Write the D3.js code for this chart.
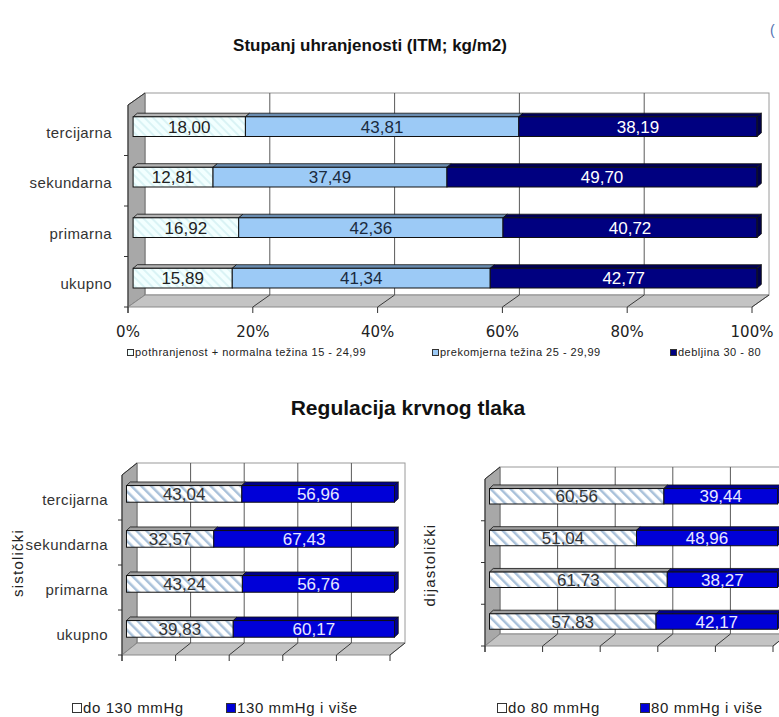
<!DOCTYPE html>
<html>
<head>
<meta charset="utf-8">
<script src="https://cdn.jsdelivr.net/npm/d3@7"></script>
<style>
  body { margin: 0; background: #fff; }
  svg { display: block; font-family: "Liberation Sans", Arial, sans-serif; }
</style>
</head>
<body>
<svg id="chart" width="779" height="717"></svg>
<script>
// categories, top row first
const levels = ["tercijarna", "sekundarna", "primarna", "ukupno"];
const tickValues = [0, 20, 40, 60, 80, 100];
const tickLabels = ["0%", "20%", "40%", "60%", "80%", "100%"];

// Stupanj uhranjenosti (ITM)
const bmiSeries = ["pothranjenost + normalna težina 15 - 24,99", "prekomjerna težina 25 - 29,99", "debljina 30 - 80"];
const bmiNormal = [18.00, 12.81, 16.92, 15.89];
const bmiOver   = [43.81, 37.49, 42.36, 41.34];
const bmiObese  = [38.19, 49.70, 40.72, 42.77];

// Regulacija krvnog tlaka
const sysSeries = ["do 130 mmHg", "130 mmHg i više"];
const sysLow  = [43.04, 32.57, 43.24, 39.83];
const sysHigh = [56.96, 67.43, 56.76, 60.17];
const diaSeries = ["do 80 mmHg", "80 mmHg i više"];
const diaLow  = [60.56, 51.04, 61.73, 57.83];
const diaHigh = [39.44, 48.96, 38.27, 42.17];

const svg = d3.select("#chart");
const defs = svg.append("defs");

function hatch(id, bg, fg, size, w) {
  const p = defs.append("pattern")
    .attr("id", id)
    .attr("patternUnits", "userSpaceOnUse")
    .attr("width", size).attr("height", size)
    .attr("patternTransform", "rotate(-45)");
  p.append("rect").attr("width", size).attr("height", size).attr("fill", bg);
  p.append("line").attr("x1", 1).attr("y1", 0).attr("x2", 1).attr("y2", size)
    .attr("stroke", fg).attr("stroke-width", w);
}
hatch("hatchCyan", "#f2ffff", "#d2f0f2", 6, 1.5);
hatch("hatchBlue", "#ffffff", "#a9c1da", 7, 3);

const fmt = v => d3.format(".2f")(v).replace(".", ",");

function draw3D(cfg) {
  const g = svg.append("g");
  const x = d3.scaleLinear().domain([0, 100]).range([cfg.x0, cfg.x1]);
  const y = d3.scaleBand().domain(levels).range([cfg.top, cfg.bottom]);
  const dx = cfg.dx, dy = cfg.dy;
  const top = cfg.top, bottom = cfg.bottom;
  const pts = a => a.map(p => p.join(",")).join(" ");

  // walls
  g.append("rect")
    .attr("x", x(0) + dx).attr("y", top + dy)
    .attr("width", x(100) - x(0)).attr("height", bottom - top)
    .attr("fill", "#fff").attr("stroke", "#9a9a9a");
  g.append("polygon")
    .attr("points", pts([[x(0), top], [x(0) + dx, top + dy], [x(0) + dx, bottom + dy], [x(0), bottom]]))
    .attr("fill", "#a8a8a8").attr("stroke", "#707070");
  g.append("polygon")
    .attr("points", pts([[x(0), bottom], [x(0) + dx, bottom + dy], [x(100) + dx, bottom + dy], [x(100), bottom]]))
    .attr("fill", "#c4c4c4").attr("stroke", "#8a8a8a");

  // gridlines on the back wall and the floor
  const inner = tickValues.filter(t => t > 0 && t < 100);
  g.selectAll(".grid").data(inner).join("line")
    .attr("x1", d => x(d) + dx).attr("x2", d => x(d) + dx)
    .attr("y1", top + dy).attr("y2", bottom + dy)
    .attr("stroke", "#5a5a5a");
  g.selectAll(".floorgrid").data(tickValues.filter(t => t > 0)).join("line")
    .attr("x1", d => x(d) + dx).attr("y1", bottom + dy)
    .attr("x2", d => x(d)).attr("y2", bottom)
    .attr("stroke", "#3a3a3a");

  // axes
  g.append("line").attr("x1", x(0)).attr("x2", x(0)).attr("y1", top).attr("y2", bottom + 6)
    .attr("stroke", "#333");
  g.append("line").attr("x1", x(0)).attr("x2", x(0) + dx).attr("y1", top).attr("y2", top + dy)
    .attr("stroke", "#333");
  g.selectAll(".ytick").data(levels.map(l => y(l)).slice(1).concat([bottom])).join("line")
    .attr("x1", x(0) - 4).attr("x2", x(0)).attr("y1", d => d).attr("y2", d => d)
    .attr("stroke", "#333");
  g.selectAll(".xtick").data(tickValues).join("line")
    .attr("x1", d => x(d)).attr("x2", d => x(d)).attr("y1", bottom).attr("y2", bottom + 6)
    .attr("stroke", "#333");

  if (cfg.tickLabels) {
    g.selectAll(".xlab").data(tickValues).join("text")
      .attr("x", d => x(d)).attr("y", bottom + 30)
      .attr("text-anchor", "middle")
      .style("font-family", "'DejaVu Sans', Verdana, sans-serif")
      .style("font-size", "15px").attr("fill", "#222")
      .text((d, i) => tickLabels[i]);
  }
  if (cfg.catLabels) {
    g.selectAll(".ylab").data(levels).join("text")
      .attr("x", cfg.labelX).attr("y", d => y(d) + y.bandwidth() / 2 + 2)
      .attr("dy", "0.35em").attr("text-anchor", "end")
      .style("font-size", "15px").style("letter-spacing", "0.4px")
      .attr("fill", "#333")
      .text(d => d);
  }

  // stacked bars
  const keys = cfg.series.map((s, i) => "s" + i);
  const rows = levels.map((l, i) => {
    const r = { level: l };
    cfg.series.forEach((s, k) => { r["s" + k] = s.values[i]; });
    return r;
  });
  const stacked = d3.stack().keys(keys)(rows);
  const bh = y.bandwidth() * cfg.barRatio;
  const fx = dx * 0.3, fy = dy * 0.3;
  const bdx = dx * 0.25, bdy = dy * 0.3;
  const faceY = l => y(l) + (y.bandwidth() - bh) / 2 + fy;

  stacked.forEach((layer, k) => {
    const s = cfg.series[k];
    const lg = g.append("g");
    lg.selectAll("polygon.topface").data(layer).join("polygon")
      .attr("points", d => {
        const xa = x(d[0]) + fx, xb = x(d[1]) + fx, yt = faceY(d.data.level);
        return pts([[xa, yt], [xa + bdx, yt + bdy], [xb + bdx, yt + bdy], [xb, yt]]);
      })
      .attr("fill", s.topFill).attr("stroke", "#111").attr("stroke-width", 0.8);
    lg.selectAll("rect").data(layer).join("rect")
      .attr("x", d => x(d[0]) + fx).attr("y", d => faceY(d.data.level))
      .attr("width", d => x(d[1]) - x(d[0])).attr("height", bh)
      .attr("fill", s.fill).attr("stroke", "#111").attr("stroke-width", 1);
    if (k === stacked.length - 1) {
      lg.selectAll("polygon.side").data(layer).join("polygon")
        .attr("points", d => {
          const xb = x(d[1]) + fx, yt = faceY(d.data.level);
          return pts([[xb, yt], [xb + bdx, yt + bdy], [xb + bdx, yt + bdy + bh], [xb, yt + bh]]);
        })
        .attr("fill", s.sideFill).attr("stroke", "#111").attr("stroke-width", 0.8);
    }
    lg.selectAll("text").data(layer).join("text")
      .attr("x", d => (x(d[0]) + x(d[1])) / 2 + fx)
      .attr("y", d => faceY(d.data.level) + bh / 2)
      .attr("dy", "0.36em").attr("text-anchor", "middle")
      .style("font-size", cfg.valueSize).attr("fill", s.textFill)
      .text(d => fmt(d.data["s" + k]));
  });
}

// titles
svg.append("text").attr("x", 370).attr("y", 51).attr("text-anchor", "middle")
  .style("font-size", "17px").style("font-weight", "bold").attr("fill", "#111")
  .text("Stupanj uhranjenosti (ITM; kg/m2)");
svg.append("text").attr("x", 770).attr("y", 35)
  .style("font-size", "14px").attr("fill", "#5070b0").text("(");
svg.append("text").attr("x", 408).attr("y", 415).attr("text-anchor", "middle")
  .style("font-size", "21px").style("font-weight", "bold").attr("fill", "#111")
  .text("Regulacija krvnog tlaka");

draw3D({
  x0: 128, x1: 752, top: 105, bottom: 307, dx: 17, dy: -12,
  barRatio: 0.39, valueSize: "17px", tickLabels: true, catLabels: true, labelX: 112,
  series: [
    { values: bmiNormal, fill: "url(#hatchCyan)", topFill: "#b4b4b4", sideFill: "#b4b4b4", textFill: "#222" },
    { values: bmiOver, fill: "#9ccaf6", topFill: "#6a8cb0", sideFill: "#6a8cb0", textFill: "#1a2a40" },
    { values: bmiObese, fill: "#000080", topFill: "#000055", sideFill: "#00004a", textFill: "#fff" }
  ]
});

draw3D({
  x0: 122, x1: 390, top: 475, bottom: 655, dx: 15, dy: -12,
  barRatio: 0.37, valueSize: "17px", tickLabels: false, catLabels: true, labelX: 108,
  series: [
    { values: sysLow, fill: "url(#hatchBlue)", topFill: "#a0a0a0", sideFill: "#a0a0a0", textFill: "#333" },
    { values: sysHigh, fill: "#0000d8", topFill: "#00008a", sideFill: "#000090", textFill: "#e8e8ff" }
  ]
});

draw3D({
  x0: 485, x1: 773, top: 479, bottom: 646, dx: 15, dy: -12,
  barRatio: 0.37, valueSize: "17px", tickLabels: false, catLabels: false,
  series: [
    { values: diaLow, fill: "url(#hatchBlue)", topFill: "#a0a0a0", sideFill: "#a0a0a0", textFill: "#333" },
    { values: diaHigh, fill: "#0000d8", topFill: "#00008a", sideFill: "#000090", textFill: "#e8e8ff" }
  ]
});

// axis titles of the blood pressure panels
svg.append("text").attr("transform", "translate(23,563) rotate(-90)")
  .attr("text-anchor", "middle").style("font-size", "15px").style("letter-spacing", "1.2px")
  .attr("fill", "#222").text("sistolički");
svg.append("text").attr("transform", "translate(435,565) rotate(-90)")
  .attr("text-anchor", "middle").style("font-size", "15px").style("letter-spacing", "1.2px")
  .attr("fill", "#222").text("dijastolički");

// legends
function legend(items, y, size, spacing, box) {
  const g = svg.append("g");
  items.forEach(it => {
    g.append("rect").attr("x", it.x + 0.5).attr("y", y - box - 0.5)
      .attr("width", box).attr("height", box)
      .attr("fill", it.fill).attr("stroke", it.stroke);
    g.append("text").attr("x", it.x + box + 2).attr("y", y)
      .style("font-size", size).style("letter-spacing", spacing)
      .attr("fill", "#222").text(it.label);
  });
}
legend([
  { x: 127, label: bmiSeries[0], fill: "#f2ffff", stroke: "#333" },
  { x: 432, label: bmiSeries[1], fill: "#9ccaf6", stroke: "#333" },
  { x: 670, label: bmiSeries[2], fill: "#000080", stroke: "#333" }
], 356, "11px", "0.5px", 6);
legend([
  { x: 72, label: sysSeries[0], fill: "#fff", stroke: "#333" },
  { x: 226, label: sysSeries[1], fill: "#0000d8", stroke: "#333" },
  { x: 497, label: diaSeries[0], fill: "#fff", stroke: "#333" },
  { x: 640, label: diaSeries[1], fill: "#0000d8", stroke: "#333" }
], 713, "15px", "0.6px", 9);
</script>
</body>
</html>
